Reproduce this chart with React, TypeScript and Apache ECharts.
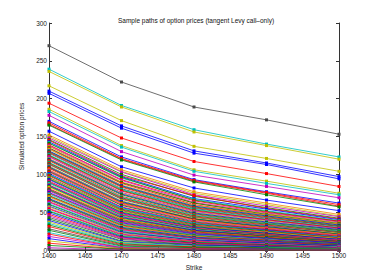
import React, { useEffect, useRef } from "react";
import * as echarts from "echarts";

const strikes = [1460, 1470, 1480, 1490, 1500];
const xTicks = { min: 1460, max: 1500, interval: 5 };
const yTicks = { min: 0, max: 300, interval: 50 };

// simulated option price paths, one row per path (values at the strikes)
const paths: number[][] = [
  [270, 222, 189, 172, 153],
  [239, 191, 159, 140, 123],
  [236, 189, 156, 138, 120],
  [217, 171, 137, 121, 104],
  [210, 164, 131, 115, 97],
  [207, 161, 128, 113, 94],
  [194, 148, 117, 101, 84],
  [186, 138, 106, 91, 75],
  [183, 136, 104, 88, 73],
  [178, 130, 99, 84, 69],
  [170, 123, 93, 77, 62],
  [168, 121, 92, 76, 60],
  [166, 120, 91, 75, 58],
  [165, 119, 90, 73, 57],
  [157, 110, 82, 66, 52],
  [152, 106, 77, 62, 47],
  [150, 104, 75, 60, 45],
  [148, 103, 73, 58, 44],
  [146, 100, 71, 56, 42],
  [145, 98, 72, 55, 41],
  [143, 97, 68, 54, 40],
  [142, 95, 67, 52, 39],
  [141, 96, 66, 51, 38],
  [139, 93, 65, 50, 38],
  [138, 92, 63, 49, 37],
  [137, 90, 62, 48, 36],
  [135, 89, 62, 47, 35],
  [134, 88, 60, 46, 34],
  [133, 86, 59, 46, 34],
  [131, 85, 58, 45, 33],
  [130, 84, 57, 44, 32],
  [129, 83, 56, 43, 31],
  [128, 81, 55, 42, 31],
  [126, 80, 54, 41, 30],
  [125, 79, 53, 40, 29],
  [124, 78, 52, 40, 29],
  [123, 76, 51, 39, 28],
  [121, 75, 50, 38, 27],
  [120, 74, 49, 37, 27],
  [119, 73, 48, 36, 26],
  [118, 71, 47, 35, 25],
  [116, 70, 46, 35, 25],
  [115, 69, 45, 34, 24],
  [114, 68, 44, 33, 23],
  [113, 67, 43, 32, 23],
  [111, 65, 42, 31, 22],
  [110, 64, 41, 31, 21],
  [109, 63, 41, 30, 21],
  [108, 62, 40, 29, 20],
  [106, 61, 39, 29, 20],
  [105, 60, 38, 28, 19],
  [104, 59, 37, 27, 18],
  [103, 57, 36, 27, 18],
  [101, 56, 35, 26, 17],
  [100, 55, 35, 25, 17],
  [99, 54, 34, 25, 16],
  [98, 53, 33, 24, 16],
  [96, 52, 32, 23, 15],
  [95, 51, 31, 23, 15],
  [94, 50, 31, 22, 14],
  [93, 49, 30, 22, 14],
  [91, 48, 29, 21, 13],
  [90, 47, 28, 20, 13],
  [89, 46, 28, 20, 12],
  [88, 45, 27, 19, 12],
  [86, 44, 26, 19, 12],
  [85, 43, 26, 18, 11],
  [84, 42, 25, 18, 11],
  [83, 41, 24, 17, 10],
  [81, 40, 24, 17, 10],
  [80, 39, 23, 16, 10],
  [79, 38, 22, 16, 9],
  [78, 37, 22, 15, 9],
  [76, 36, 21, 15, 9],
  [75, 35, 20, 14, 8],
  [74, 34, 20, 14, 8],
  [72, 33, 19, 13, 8],
  [71, 32, 18, 13, 7],
  [70, 31, 18, 12, 7],
  [68, 30, 17, 12, 7],
  [67, 29, 16, 11, 6],
  [66, 28, 16, 11, 6],
  [64, 27, 15, 10, 6],
  [63, 26, 15, 10, 5],
  [61, 25, 14, 9, 5],
  [60, 24, 13, 9, 5],
  [58, 23, 13, 9, 5],
  [57, 22, 12, 8, 4],
  [55, 21, 12, 8, 4],
  [54, 20, 11, 7, 4],
  [52, 19, 10, 7, 4],
  [51, 18, 10, 7, 3],
  [49, 17, 9, 6, 3],
  [47, 16, 9, 6, 3],
  [45, 15, 8, 5, 3],
  [43, 14, 7, 5, 2],
  [41, 12, 7, 4, 2],
  [39, 11, 6, 4, 2],
  [37, 10, 5, 3, 2],
  [35, 9, 5, 3, 1],
  [33, 8, 4, 3, 1],
  [31, 7, 4, 2, 1],
  [28, 6, 3, 2, 1],
  [26, 5, 3, 2, 1],
  [23, 4, 2, 1, 1],
  [21, 3, 2, 1, 0],
  [18, 3, 1, 1, 0],
  [15, 2, 1, 1, 0],
  [12, 2, 1, 0, 0],
  [9, 1, 1, 0, 0],
  [6, 1, 0, 0, 0],
  [3, 0, 0, 0, 0],
  [1, 0, 0, 0, 0],
];

// colour code of each path, in the same order as the rows above
const pathColorCodes =
  "kcyybbrycmbrrgboymgrbcgrmogrybgrkcgrmybgrcgrkybgromgrbcgrkygbrmgcrbgyrkgmbrcgrybgkrmcgbymrcgbrmkgbycgrkgcrmbyrgmk";

const palette: Record<string, string> = {
  b: "#0000ff",
  g: "#008000",
  r: "#ff0000",
  c: "#00bfbf",
  m: "#bf00bf",
  y: "#bfbf00",
  k: "#4a4a4a",
  o: "#f08000",
};

export default function App() {
  const ref = useRef<HTMLDivElement>(null);
  useEffect(() => {
    if (!ref.current) return;
    const chart = echarts.init(ref.current, null, { renderer: "svg" });
    const font = "Liberation Sans, Arial, Helvetica, sans-serif";
    const axisLine = { show: true, lineStyle: { color: "#333", width: 1 } };
    const tick = { show: true, inside: true, length: 3, lineStyle: { color: "#333" } };
    const series = paths.map((row, i) => {
      const col = palette[pathColorCodes[i % pathColorCodes.length]] || "#0000ff";
      return {
        type: "line" as const,
        xAxisIndex: 0,
        yAxisIndex: 0,
        data: strikes.map((s, j) => [s, row[j]]),
        symbol: "rect",
        symbolSize: 3,
        showSymbol: true,
        lineStyle: { color: col, width: 0.8 },
        itemStyle: { color: col },
        silent: true,
        z: 2,
      };
    });
    chart.setOption({
      animation: false,
      backgroundColor: "#fff",
      title: {
        text: "Sample paths of option prices (tangent Levy call\u2013only)",
        left: 191,
        textAlign: "center",
        top: 12,
        textStyle: { fontSize: 6.5, fontWeight: "normal", color: "#111", fontFamily: font },
      },
      grid: {
        left: 49,
        right: 35,
        top: 23,
        bottom: 30,
        containLabel: false,
        outerBoundsMode: "none",
      },
      xAxis: [
        {
          type: "value",
          min: xTicks.min,
          max: xTicks.max,
          interval: xTicks.interval,
          position: "bottom",
          name: "Strike",
          nameLocation: "middle",
          nameGap: 9,
          nameTextStyle: { fontSize: 6.5, color: "#222", fontFamily: font },
          axisLine,
          axisTick: tick,
          splitLine: { show: false },
          axisLabel: {
            fontSize: 6.5,
            color: "#222",
            margin: 2,
            fontFamily: font,
            formatter: (v: number) => String(v),
          },
        },
        {
          type: "value",
          min: xTicks.min,
          max: xTicks.max,
          interval: xTicks.interval,
          position: "top",
          axisLine,
          axisTick: tick,
          splitLine: { show: false },
          axisLabel: { show: false },
        },
      ],
      yAxis: [
        {
          type: "value",
          min: yTicks.min,
          max: yTicks.max,
          interval: yTicks.interval,
          position: "left",
          name: "Simulated option prices",
          nameLocation: "middle",
          nameGap: 12,
          nameTextStyle: { fontSize: 6.5, color: "#222", fontFamily: font },
          axisLine,
          axisTick: tick,
          splitLine: { show: false },
          axisLabel: {
            fontSize: 6.5,
            color: "#222",
            margin: 2,
            fontFamily: font,
            formatter: (v: number) => String(v),
          },
        },
        {
          type: "value",
          min: yTicks.min,
          max: yTicks.max,
          interval: yTicks.interval,
          position: "right",
          axisLine,
          axisTick: tick,
          splitLine: { show: false },
          axisLabel: { show: false },
        },
      ],
      series,
    });
    return () => chart.dispose();
  }, []);
  return (
    <div
      ref={ref}
      style={{ position: "fixed", left: 0, top: 0, width: 374, height: 280, background: "#fff" }}
    />
  );
}
